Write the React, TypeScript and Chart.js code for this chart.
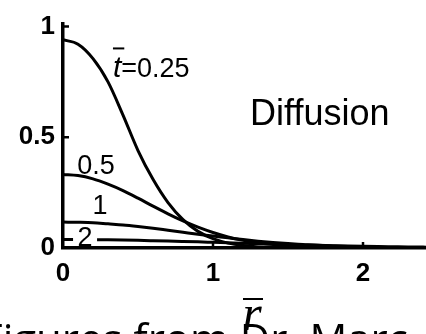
import React, { useEffect, useRef } from "react";
import { Chart, registerables } from "chart.js";

Chart.register(...registerables);

// Dimensionless radius r̄ sampled along the x axis
const radius = [
  0, 0.1, 0.2, 0.3, 0.4, 0.5, 0.6, 0.7, 0.8, 0.9, 1.0, 1.1, 1.2,
  1.3, 1.4, 1.5, 1.6, 1.7, 1.8, 1.9, 2.0, 2.1, 2.2, 2.3, 2.4, 2.5,
];

// Concentration profiles at dimensionless times t̄
const concT025 = [
  0.94, 0.92, 0.855, 0.75, 0.6, 0.44, 0.31, 0.205, 0.128, 0.075, 0.042, 0.022,
  0.011, 0.005, 0.002, 0.001, 0, 0, 0, 0, 0, 0, 0, 0, 0, 0,
];
const concT05 = [
  0.332, 0.327, 0.312, 0.288, 0.259, 0.225, 0.189, 0.154, 0.122, 0.094, 0.07,
  0.05, 0.035, 0.024, 0.0155, 0.0098, 0.0061, 0.0036, 0.0021, 0.0012, 0.0006,
  0.0003, 0.0001, 0, 0, 0,
];
const concT1 = [
  0.117, 0.116, 0.114, 0.109, 0.104, 0.097, 0.089, 0.08, 0.071, 0.062, 0.054,
  0.046, 0.038, 0.031, 0.025, 0.02, 0.016, 0.012, 0.0094, 0.007, 0.0052,
  0.0037, 0.0027, 0.0019, 0.0013, 0.0009,
];
const concT2 = [
  0.038, 0.0379, 0.0374, 0.0367, 0.0357, 0.0345, 0.033, 0.0314, 0.0296, 0.0277,
  0.0257, 0.0237, 0.0217, 0.0196, 0.0177, 0.0158, 0.014, 0.0123, 0.0107,
  0.0093, 0.008, 0.0068, 0.0058, 0.0048, 0.004, 0.0033,
];

const xTicks = [0, 1, 2];
const yTicks = [0, 0.5, 1];

const seriesList = [concT025, concT05, concT1, concT2];

const sans = '"Liberation Sans", Arial, sans-serif';

const annotations = {
  id: "annotations",
  afterDatasetsDraw(chart: any) {
    const { ctx, scales } = chart;
    const x = scales.x;
    const y = scales.y;
    ctx.save();
    ctx.fillStyle = "#000";
    ctx.strokeStyle = "#000";
    ctx.textBaseline = "alphabetic";

    // t̄ = 0.25
    {
      const px = x.getPixelForValue(0.333);
      const py = y.getPixelForValue(0.77);
      ctx.font = `italic 30px ${sans}`;
      ctx.textAlign = "left";
      ctx.fillText("t", px, py);
      const w = ctx.measureText("t").width;
      ctx.lineWidth = 2;
      ctx.beginPath();
      ctx.moveTo(px, py - 29);
      ctx.lineTo(px + w + 3, py - 29);
      ctx.stroke();
      ctx.font = `27px ${sans}`;
      ctx.fillText("=0.25", px + w, py);
    }

    ctx.textAlign = "center";
    ctx.font = `27px ${sans}`;
    // 0.5
    ctx.fillText("0.5", x.getPixelForValue(0.22), y.getPixelForValue(0.333));
    // 1
    ctx.fillText("1", x.getPixelForValue(0.247), y.getPixelForValue(0.154));
    // 2, on a white patch over its own curve
    {
      const cx = x.getPixelForValue(0.147);
      const by = y.getPixelForValue(0.008);
      ctx.fillStyle = "#fff";
      ctx.fillRect(cx - 12, by - 20, 24, 19);
      ctx.fillStyle = "#000";
      ctx.fillText("2", cx, by);
    }

    // Diffusion
    ctx.textAlign = "left";
    ctx.font = `36px ${sans}`;
    ctx.fillText("Diffusion", x.getPixelForValue(1.247), y.getPixelForValue(0.553));

    // inward tick marks
    ctx.lineWidth = 2.5;
    const area = chart.chartArea;
    for (const v of yTicks) {
      if (v === 0) continue;
      const py = y.getPixelForValue(v);
      ctx.beginPath();
      ctx.moveTo(area.left, py);
      ctx.lineTo(area.left + 6, py);
      ctx.stroke();
    }
    for (const v of xTicks) {
      if (v === 0) continue;
      const px = x.getPixelForValue(v);
      ctx.beginPath();
      ctx.moveTo(px, area.bottom);
      ctx.lineTo(px, area.bottom - 6);
      ctx.stroke();
    }

    // axis title r̄
    {
      const cx = 252;
      const by = 330;
      ctx.font = 'italic 50px "Liberation Serif", "Times New Roman", serif';
      ctx.textAlign = "center";
      ctx.fillText("r", cx, by);
      ctx.lineWidth = 2;
      ctx.beginPath();
      ctx.moveTo(cx - 9, 299);
      ctx.lineTo(cx + 11, 299);
      ctx.stroke();
    }
    ctx.restore();
  },
};

export default function App() {
  const canvasRef = useRef<HTMLCanvasElement | null>(null);

  useEffect(() => {
    const canvas = canvasRef.current;
    if (!canvas) return;
    const chart = new Chart(canvas, {
      type: "line",
      data: {
        datasets: seriesList.map((values) => ({
          data: radius.map((r, i) => ({ x: r, y: values[i] })),
          borderColor: "#000",
          borderWidth: 3,
          pointRadius: 0,
          fill: false,
          cubicInterpolationMode: "monotone" as const,
        })),
      },
      options: {
        responsive: false,
        animation: false,
        events: [],
        layout: { padding: { top: 17, right: 0, left: 0, bottom: 0 } },
        plugins: {
          legend: { display: false },
          tooltip: { enabled: false },
        },
        scales: {
          x: {
            type: "linear",
            min: 0,
            max: 2.42,
            grid: { display: false, drawTicks: false },
            border: { display: true, color: "#000", width: 3.5 },
            afterBuildTicks: (scale: any) => {
              scale.ticks = xTicks.map((v) => ({ value: v }));
            },
            afterFit: (scale: any) => {
              scale.height = 86;
            },
            ticks: {
              color: "#000",
              padding: 10,
              maxRotation: 0,
              font: { family: sans, size: 26, weight: "bold" },
              callback: (v: any) => String(v),
            },
          },
          y: {
            type: "linear",
            min: 0,
            max: 1.013,
            grid: { display: false, drawTicks: false },
            border: { display: true, color: "#000", width: 3.5 },
            afterBuildTicks: (scale: any) => {
              scale.ticks = yTicks.map((v) => ({ value: v }));
            },
            afterFit: (scale: any) => {
              scale.width = 63;
            },
            ticks: {
              color: "#000",
              padding: 8,
              font: { family: sans, size: 26, weight: "bold" },
              callback: (v: any) => String(v),
            },
          },
        },
      },
      plugins: [annotations],
    });
    return () => chart.destroy();
  }, []);

  return (
    <div
      style={{
        position: "relative",
        width: 426,
        height: 334,
        overflow: "hidden",
        background: "#fff",
      }}
    >
      <style>{"body{margin:0}"}</style>
      <canvas
        ref={canvasRef}
        width={426}
        height={334}
        style={{ position: "absolute", left: 0, top: 0, width: 426, height: 334 }}
      />
      <div
        style={{
          position: "absolute",
          left: -19,
          top: 317,
          fontFamily: '"Open Sans", sans-serif',
          fontSize: 42,
          lineHeight: "42px",
          whiteSpace: "nowrap",
          color: "#000",
        }}
      >
        Figures from Dr. Marc
      </div>
    </div>
  );
}
